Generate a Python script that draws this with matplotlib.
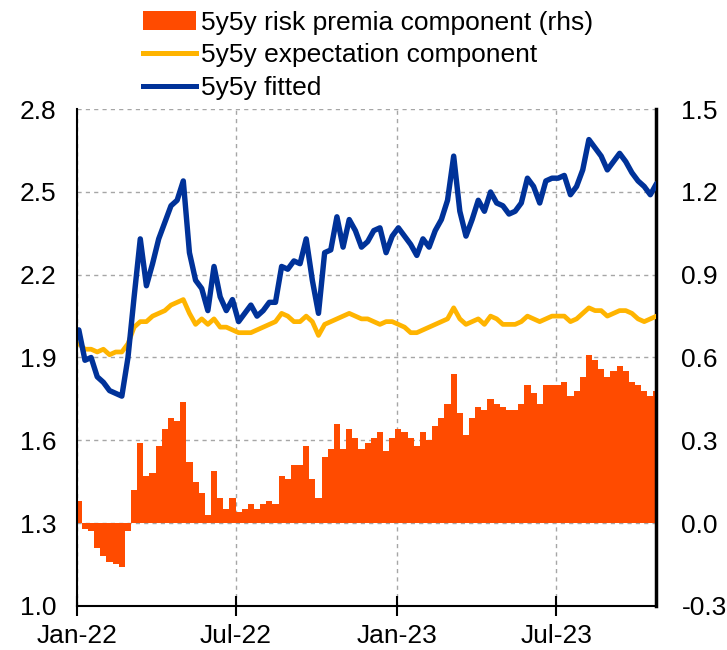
import pandas as pd
import matplotlib.pyplot as plt
import matplotlib.dates as mdates
from matplotlib.patches import Patch
from matplotlib.lines import Line2D

plt.rcParams['font.family'] = ['Liberation Sans', 'DejaVu Sans']

# weekly observations, Jan-22 to Oct-23
dates = pd.date_range('2022-01-03', periods=95, freq='7D')

fitted = [2.00, 1.89, 1.90, 1.83, 1.81, 1.78, 1.77, 1.76, 1.90, 2.12, 2.33, 2.16,
          2.24, 2.33, 2.39, 2.45, 2.47, 2.54, 2.28, 2.18, 2.15, 2.07, 2.23, 2.12,
          2.07, 2.11, 2.03, 2.06, 2.09, 2.05, 2.07, 2.10, 2.10, 2.23, 2.22, 2.25,
          2.24, 2.33, 2.18, 2.06, 2.28, 2.29, 2.41, 2.30, 2.40, 2.36, 2.30, 2.32,
          2.36, 2.37, 2.28, 2.34, 2.37, 2.34, 2.31, 2.27, 2.33, 2.30, 2.36, 2.40,
          2.47, 2.63, 2.43, 2.34, 2.40, 2.47, 2.43, 2.50, 2.46, 2.45, 2.42,
          2.43, 2.46, 2.55, 2.52, 2.46, 2.54, 2.55, 2.55, 2.56, 2.49, 2.52, 2.58,
          2.69, 2.66, 2.63, 2.58, 2.61, 2.64, 2.61, 2.57, 2.54, 2.52, 2.49, 2.53]

expectation = [1.95, 1.93, 1.93, 1.92, 1.93, 1.91, 1.92, 1.92, 1.95, 2.01, 2.03, 2.03,
               2.05, 2.06, 2.07, 2.09, 2.10, 2.11, 2.06, 2.02, 2.04, 2.02, 2.04, 2.01,
               2.01, 2.00, 1.99, 1.99, 1.99, 2.00, 2.01, 2.02, 2.03, 2.06, 2.05, 2.03,
               2.03, 2.05, 2.03, 1.98, 2.02, 2.03, 2.04, 2.05, 2.06, 2.05, 2.04, 2.04,
               2.03, 2.02, 2.03, 2.03, 2.02, 2.01, 1.99, 1.99, 2.00, 2.01, 2.02, 2.03,
               2.04, 2.08, 2.04, 2.02, 2.03, 2.04, 2.02, 2.05, 2.04, 2.02, 2.02,
               2.02, 2.03, 2.05, 2.04, 2.03, 2.04, 2.05, 2.05, 2.05, 2.03, 2.04, 2.06,
               2.08, 2.07, 2.07, 2.05, 2.06, 2.07, 2.07, 2.06, 2.04, 2.03, 2.04, 2.05]

risk_premia = [0.08, -0.02, -0.03, -0.09, -0.12, -0.14, -0.15, -0.16, -0.03, 0.12, 0.29, 0.17,
               0.18, 0.28, 0.34, 0.38, 0.37, 0.44, 0.22, 0.15, 0.11, 0.03, 0.19, 0.09,
               0.05, 0.09, 0.04, 0.05, 0.07, 0.05, 0.07, 0.08, 0.07, 0.17, 0.16, 0.21,
               0.21, 0.28, 0.16, 0.09, 0.24, 0.27, 0.36, 0.27, 0.34, 0.31, 0.27, 0.29,
               0.31, 0.33, 0.26, 0.31, 0.34, 0.33, 0.31, 0.28, 0.33, 0.30, 0.35, 0.38,
               0.43, 0.54, 0.40, 0.32, 0.38, 0.42, 0.41, 0.45, 0.43, 0.42, 0.41,
               0.41, 0.43, 0.50, 0.47, 0.43, 0.50, 0.50, 0.50, 0.51, 0.46, 0.48, 0.53,
               0.61, 0.59, 0.56, 0.53, 0.55, 0.57, 0.55, 0.51, 0.50, 0.48, 0.46, 0.48]

left_ticks = [1.0, 1.3, 1.6, 1.9, 2.2, 2.5, 2.8]
right_ticks = [-0.3, 0.0, 0.3, 0.6, 0.9, 1.2, 1.5]
x_ticks = pd.to_datetime(['2022-01-01', '2022-07-01', '2023-01-01', '2023-07-01'])

blue = '#003299'
yellow = '#FFB400'
orange = '#FF4B00'

fig = plt.figure(figsize=(7.27, 6.5), dpi=100)
ax = fig.add_axes([0.106, 0.068, 0.797, 0.764])
ax2 = ax.twinx()
# lines above the bars, grid below the bars
ax.set_zorder(ax2.get_zorder() + 1)
ax.patch.set_visible(False)

ax2.bar(dates, risk_premia, width=7, color=orange, linewidth=0, zorder=2)
ax.plot(dates, expectation, color=yellow, lw=3.4, solid_capstyle='round', solid_joinstyle='round')
ax.plot(dates, fitted, color=blue, lw=3.9, solid_capstyle='round', solid_joinstyle='round')

ax.set_xlim(pd.Timestamp('2022-01-01'), pd.Timestamp('2023-10-23'))
ax.set_ylim(1.0, 2.8)
ax2.set_ylim(-0.3, 1.5)

ax.set_yticks(left_ticks)
ax.set_yticklabels([f'{v:.1f}' for v in left_ticks])
ax2.set_yticks(right_ticks)
ax2.set_yticklabels([f'{v:.1f}' for v in right_ticks])
ax.set_xticks(x_ticks)
ax.xaxis.set_major_formatter(mdates.DateFormatter('%b-%y'))

ax.tick_params(axis='y', length=0, pad=15, labelsize=19)
ax2.tick_params(axis='y', length=0, pad=18, labelsize=19)
ax.tick_params(axis='x', direction='inout', length=14, width=1.5, pad=6, labelsize=19)

# grid drawn on the bar axes so the bars cover it
ax2.xaxis.set_visible(True)
ax2.tick_params(axis='x', bottom=False, top=False, labelbottom=False, labeltop=False)
ax2.grid(True, axis='both', color='#a6a6a6', linestyle=(0, (3, 3)), linewidth=1)
ax2.set_axisbelow(True)

for a in (ax, ax2):
    a.spines['top'].set_visible(False)
ax2.spines['left'].set_visible(False)
ax2.spines['bottom'].set_visible(False)
ax.spines['right'].set_visible(False)
ax.spines['left'].set_linewidth(1.5)
ax.spines['bottom'].set_linewidth(1.5)
ax2.spines['right'].set_linewidth(2.5)

handles = [Patch(facecolor=orange, edgecolor='none'),
           Line2D([], [], color=yellow, lw=3.6),
           Line2D([], [], color=blue, lw=3.6)]
labels = ['5y5y risk premia component (rhs)', '5y5y expectation component', '5y5y fitted']
fig.legend(handles, labels, loc='upper left', bbox_to_anchor=(0.182, 1.0), frameon=False,
           fontsize=19, handlelength=2.0, handleheight=0.75, handletextpad=0.2,
           labelspacing=0.33, borderaxespad=0)

fig.savefig('out.png', dpi=100)
